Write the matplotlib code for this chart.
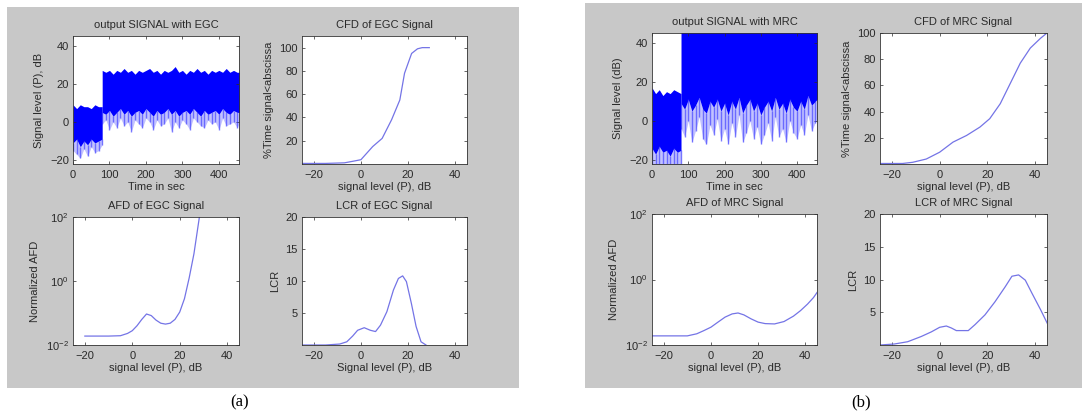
import numpy as np
import matplotlib.pyplot as plt
from matplotlib.patches import Rectangle

#%%# data

# time axis of the received signal (s)
t_seg1 = [0, 10, 20, 30, 40, 50, 60, 70, 80]
t_seg2 = [80, 90, 100, 110, 120, 130, 140, 150, 160, 170, 180, 190, 200, 210, 220,
          230, 240, 250, 260, 270, 280, 290, 300, 310, 320, 330, 340, 350, 360, 370,
          380, 390, 400, 410, 420, 430, 440, 450, 460]

# EGC signal envelopes (dB): top of band, bottom of dense band, tips of the dips
egc1_hi = [9, 7, 9, 8, 8, 7, 9, 8, 8]
egc1_lo = [-11, -9, -13, -10, -12, -9, -11, -10, -9]
egc1_dip = [-15, -17, -19, -14, -18, -13, -16, -15, -12]
egc2_hi = [27, 26, 27, 25, 27, 26, 28, 26, 27, 25, 27, 26, 27, 28, 26, 27, 25, 27, 26, 27,
           29, 26, 27, 25, 27, 26, 28, 26, 27, 25, 27, 26, 27, 26, 28, 26, 27, 26, 26]
egc2_lo = [5, 4, 6, 3, 5, 7, 4, 6, 3, 5, 6, 4, 7, 5, 3, 6, 4, 5, 7, 4,
           6, 3, 5, 6, 4, 7, 5, 3, 6, 4, 5, 6, 4, 7, 5, 4, 6, 5, 5]
egc2_dip = [-1, 1, -4, 0, -3, 2, -2, 0, -5, 1, -1, -3, 2, 0, -4, 1, -2, -1, 2, -5,
            0, -3, 1, -1, -4, 2, 0, -2, -3, 1, -1, 0, -4, 2, -2, -1, 0, -3, 1]

# MRC signal envelopes (dB); after 80 s the band runs past the top of the axes
mrc1_hi = [17, 14, 16, 13, 15, 14, 16, 15, 14]
mrc1_lo = [-14, -17, -13, -16, -15, -18, -14, -16, -15]
mrc1_dip = [-23, -25, -22, -25, -24, -23, -25, -22, -24]
mrc2_hi = 47
mrc2_lo = [9, 6, 11, 5, 8, 12, 6, 4, 10, 7, 11, 5, 9, 3, 10, 6, 12, 4, 8, 11,
           5, 9, 3, 7, 10, 5, 12, 6, 9, 4, 11, 7, 5, 10, 6, 13, 8, 10, 12]
mrc2_dip = [-4, -8, 0, -11, -5, 2, -9, -12, -2, -7, 1, -10, -4, -12, -1, -8, 3, -11, -6, 0,
            -9, -3, -12, -7, -1, -10, 2, -8, -4, -11, 0, -6, -9, -2, -7, 3, -5, -1, 2]

# CFD curves (% time signal < abscissa)
cfd_egc_x = [-25, -15, -7, -3, 0, 5, 9, 13, 16.5, 18.5, 21.5, 24, 26, 29]
cfd_egc_y = [0.5, 0.5, 1, 2.5, 3.7, 15, 22, 38, 55, 78, 95, 99, 100, 100]
cfd_mrc_x = [-25, -15.5, -11.3, -5.6, 0, 5.6, 11.3, 16.9, 21, 25.4, 29.6, 33.8, 38, 42.3, 45]
cfd_mrc_y = [0.4, 0.4, 1.3, 3.8, 9, 16.7, 21.8, 28.2, 34.6, 46, 61.5, 77, 88.5, 96, 100]

# AFD curves (normalized, log scale)
afd_egc_x = [-20, -10, -5, -2, 0, 2, 4, 6, 8, 10, 12, 14, 16, 18, 20, 22, 24, 26, 28.3]
afd_egc_y = [0.019, 0.019, 0.0195, 0.023, 0.028, 0.040, 0.063, 0.093, 0.083, 0.060,
             0.048, 0.045, 0.048, 0.063, 0.107, 0.28, 1.26, 7.1, 100]
afd_mrc_x = [-25, -10, -6, -3, 0, 3, 6, 9, 11.5, 14, 17, 20, 23, 27, 31, 35, 38, 41, 43.5, 45.5]
afd_mrc_y = [0.019, 0.019, 0.022, 0.0275, 0.035, 0.050, 0.071, 0.089, 0.095, 0.083,
             0.063, 0.050, 0.045, 0.044, 0.052, 0.076, 0.112, 0.178, 0.28, 0.45]

# LCR curves
lcr_egc_x = [-25, -15, -9, -6, -3.5, -1.4, 1.4, 4, 6.2, 8.3, 11, 13.8, 15.9, 17.7, 19.3,
             21.4, 23.4, 25.5, 27.6]
lcr_egc_y = [0, 0, 0.15, 0.5, 1.4, 2.3, 2.7, 2.3, 2.1, 3.1, 5.2, 8.6, 10.4, 10.8, 9.9,
             6.5, 2.9, 0.5, 0]
lcr_mrc_x = [-25, -19, -13.4, -7.7, -3.5, 0, 2.8, 4.9, 7, 12, 14.8, 19, 23.2, 27.5, 30.3,
             33.1, 35.9, 38.7, 42.3, 45.8]
lcr_mrc_y = [0, 0.15, 0.5, 1.3, 2.0, 2.7, 2.9, 2.6, 2.2, 2.2, 3.1, 4.6, 6.6, 8.9, 10.5,
             10.7, 9.9, 7.9, 5.4, 2.8]

#%%# styling helpers

W, H = 1085, 416
fs = 8
txt = '#2a2a2a'
curve = '#7474e6'
plt.rcParams['font.family'] = ['Liberation Sans', 'DejaVu Sans']

fig = plt.figure(figsize=(W/100, H/100), dpi=100)
fig.patch.set_facecolor('white')

# grey figure backgrounds behind each group of four plots
for x0, y0, x1, y1 in [(7, 7, 519, 388), (585, 3, 1082, 388)]:
    fig.patches.append(Rectangle((x0/W, 1-y1/H), (x1-x0)/W, (y1-y0)/H,
                                 transform=fig.transFigure, fc='#c8c8c8', ec='none', zorder=-5))

def mkax(x0, y0, x1, y1):
    # axes from pixel box
    ax = fig.add_axes([x0/W, 1-y1/H, (x1-x0)/W, (y1-y0)/H])
    ax.set_zorder(2)
    ax.set_facecolor('white')
    ax.tick_params(direction='in', length=2.5, width=0.5, labelsize=fs, colors=txt,
                   top=True, right=True)
    ax.tick_params(axis='x', pad=4)
    ax.tick_params(axis='y', pad=3)
    for s in ax.spines.values():
        s.set_linewidth(0.6)
        s.set_color('#333333')
    return ax

def labels(ax, title, xl, yl):
    ax.set_title(title, fontsize=fs, color=txt, pad=6)
    ax.set_xlabel(xl, fontsize=fs, color=txt, labelpad=2)
    ax.set_ylabel(yl, fontsize=fs, color=txt, labelpad=4)

def signal(ax, hi1, lo1, dip1, hi2, lo2, dip2):
    # dense band as a fill, fades as a soft fringe with thin strokes
    for t, hi, lo, dip in [(t_seg1, hi1, lo1, dip1), (t_seg2, hi2, lo2, dip2)]:
        ax.fill_between(t, dip, lo, color='#5050ff', alpha=0.35, lw=0)
        ax.vlines(t, dip, lo, color='#3030ff', lw=1.0, alpha=0.6)
        ax.fill_between(t, lo, hi, color='#0000ff', lw=0)
    ax.set_xlim(0, 455)
    ax.set_ylim(-22, 45)
    ax.set_xticks([0, 100, 200, 300, 400])
    ax.set_yticks([-20, 0, 20, 40])

def level_axis(ax):
    ax.set_xlim(-25, 45)
    ax.set_xticks([-20, 0, 20, 40])

#%%# (a) EGC

ax = mkax(73, 36, 239, 164)
signal(ax, egc1_hi, egc1_lo, egc1_dip, egc2_hi, egc2_lo, egc2_dip)
labels(ax, 'output SIGNAL with EGC', 'Time in sec', 'Signal level (P), dB')

ax = mkax(302, 36, 467, 164)
ax.plot(cfd_egc_x, cfd_egc_y, color=curve, lw=0.9)
level_axis(ax)
ax.set_ylim(0, 110)
ax.set_yticks([20, 40, 60, 80, 100])
labels(ax, 'CFD of EGC Signal', 'signal level (P), dB', '%Time signal<abscissa')

ax = mkax(73, 217, 239, 345)
ax.semilogy(afd_egc_x, afd_egc_y, color=curve, lw=0.9)
level_axis(ax)
ax.set_ylim(1e-2, 1e2)
ax.set_yticks([1e-2, 1e0, 1e2])
ax.minorticks_off()
labels(ax, 'AFD of EGC Signal', 'signal level (P), dB', 'Normalized AFD')

ax = mkax(302, 217, 467, 345)
ax.plot(lcr_egc_x, lcr_egc_y, color=curve, lw=0.9)
level_axis(ax)
ax.set_ylim(0, 20)
ax.set_yticks([5, 10, 15, 20])
labels(ax, 'LCR of EGC Signal', 'Signal level (P), dB', 'LCR')

#%%# (b) MRC

ax = mkax(652, 33, 817, 164)
signal(ax, mrc1_hi, mrc1_lo, mrc1_dip, mrc2_hi, mrc2_lo, mrc2_dip)
labels(ax, 'output SIGNAL with MRC', 'Time in sec', 'Signal level (dB)')

ax = mkax(880, 33, 1047, 164)
ax.plot(cfd_mrc_x, cfd_mrc_y, color=curve, lw=0.9)
level_axis(ax)
ax.set_ylim(0, 100)
ax.set_yticks([20, 40, 60, 80, 100])
labels(ax, 'CFD of MRC Signal', 'signal level (P), dB', '%Time signal<abscissa')

ax = mkax(652, 214, 817, 345)
ax.semilogy(afd_mrc_x, afd_mrc_y, color=curve, lw=0.9)
level_axis(ax)
ax.set_ylim(1e-2, 1e2)
ax.set_yticks([1e-2, 1e0, 1e2])
ax.minorticks_off()
labels(ax, 'AFD of MRC Signal', 'signal level (P), dB', 'Normalized AFD')

ax = mkax(880, 214, 1047, 345)
ax.plot(lcr_mrc_x, lcr_mrc_y, color=curve, lw=0.9)
level_axis(ax)
ax.set_ylim(0, 20)
ax.set_yticks([5, 10, 15, 20])
labels(ax, 'LCR of MRC Signal', 'signal level (P), dB', 'LCR')

#%%# panel captions

fig.text(240/W, 1-402/H, '(a)', fontsize=12, family='Liberation Serif', ha='center', va='center')
fig.text(861/W, 1-402/H, '(b)', fontsize=12, family='Liberation Serif', ha='center', va='center')

fig.savefig('out.png', dpi=100)
